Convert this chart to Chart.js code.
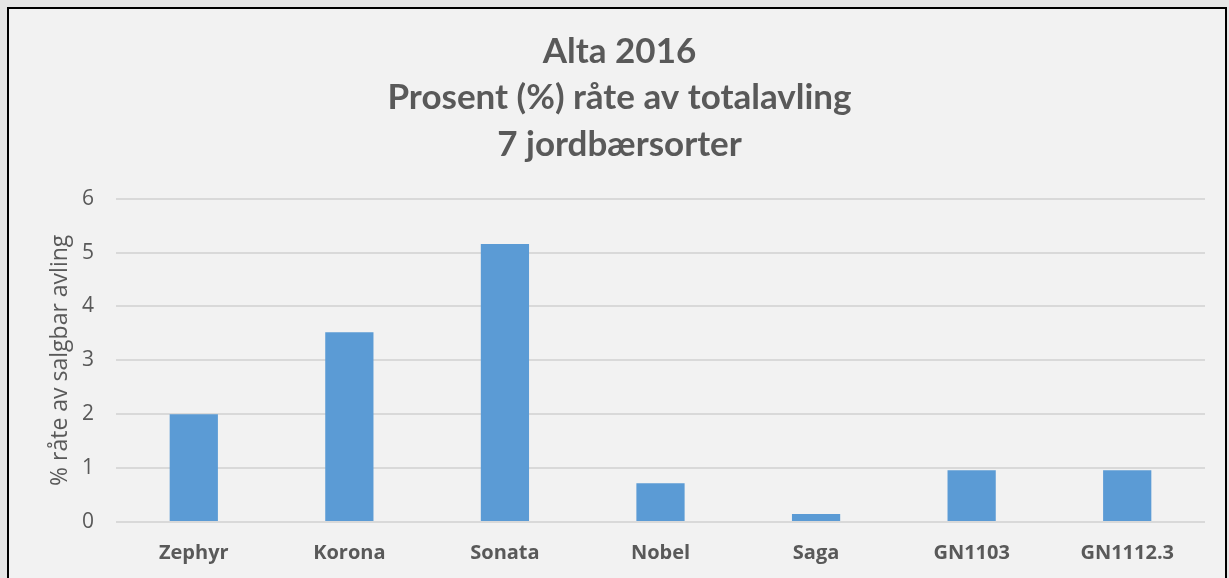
<!DOCTYPE html>
<html><head><meta charset="utf-8">
<script src="https://cdn.jsdelivr.net/npm/chart.js@4"></script>
<style>html,body{margin:0;padding:0;background:#e6e6e6;}canvas{display:block;}</style>
</head><body>
<div style="width:1229px;height:578px;"><canvas id="c" width="1229" height="578"></canvas></div>
<script>
const categories = ["Zephyr","Korona","Sonata","Nobel","Saga","GN1103","GN1112.3"];
const values = [2.0, 3.52, 5.16, 0.72, 0.15, 0.96, 0.96];
const titleLines = ["Alta 2016","Prosent (%) råte av totalavling","7 jordbærsorter"];
const yAxisTitle = "% råte av salgbar avling";

const frame = {
  id:'frame',
  beforeDraw(chart){
    const ctx = chart.ctx;
    ctx.save();
    ctx.fillStyle = '#e6e6e6';
    ctx.fillRect(0,0,chart.width,chart.height);
    ctx.fillStyle = '#f2f2f2';
    ctx.fillRect(8,8,1218,580);
    ctx.strokeStyle = '#000';
    ctx.lineWidth = 2;
    ctx.strokeRect(8,8,1218,580);
    ctx.restore();
  }
};

new Chart(document.getElementById('c'), {
  type:'bar',
  data:{labels:categories, datasets:[{data:values, backgroundColor:'#5b9bd5', barPercentage:0.62, categoryPercentage:0.5}]},
  plugins:[frame],
  options:{
    responsive:false, animation:false,
    layout:{padding:{left:34,right:24,top:0,bottom:0}},
    plugins:{
      legend:{display:false}, tooltip:{enabled:false},
      title:{display:true, text:titleLines, color:'#595959',
        font:{family:'Lato', size:35, weight:'bold', lineHeight:1.33},
        padding:{top:28,bottom:31}}
    },
    scales:{
      x:{grid:{display:false, drawTicks:false}, border:{display:false},
        ticks:{color:'#595959', padding:19, font:{family:'Open Sans', size:20, weight:'bold'}},
        afterFit(s){ s.height = 56; }},
      y:{min:0,max:6, ticks:{stepSize:1, color:'#595959', padding:22, font:{family:'Open Sans', size:21}},
        grid:{color:'#d9d9d9', lineWidth:2, drawTicks:false}, border:{display:false},
        title:{display:true, text:yAxisTitle, color:'#595959', font:{family:'Open Sans', size:23}, padding:{top:13,bottom:0}},
        afterFit(s){ s.width = 82; }}
    }
  }
});
</script>
</body></html>
